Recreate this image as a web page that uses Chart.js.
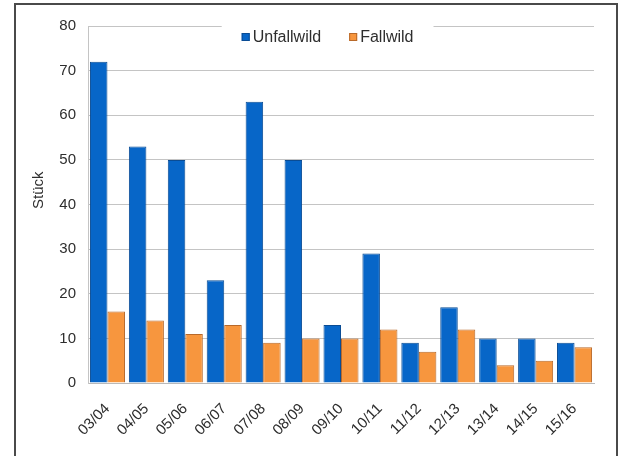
<!DOCTYPE html>
<html>
<head>
<meta charset="utf-8">
<script src="https://cdn.jsdelivr.net/npm/chart.js@4/dist/chart.umd.min.js"></script>
<style>
  html, body { margin: 0; padding: 0; background: #ffffff; }
  #wrap { position: relative; width: 624px; height: 456px; }
</style>
</head>
<body>
<div id="wrap"><canvas id="c" width="624" height="456"></canvas></div>
<script>
// Seasons (Jagdjahre)
const seasons = ['03/04', '04/05', '05/06', '06/07', '07/08', '08/09', '09/10',
                 '10/11', '11/12', '12/13', '13/14', '14/15', '15/16'];
// Counts per season
const unfallwild = [72, 53, 50, 23, 63, 50, 13, 29, 9, 17, 10, 10, 9];
const fallwild   = [16, 14, 11, 13, 9, 10, 10, 12, 7, 12, 4, 5, 8];
// Value axis
const yMin = 0, yMax = 80, yStep = 10;
const yTitle = 'Stück';

const FONT = '"Liberation Sans", Arial, sans-serif';
const BLUE = '#0766c8', BLUE_EDGE = '#0a4c94';
const ORANGE = '#f7963e', ORANGE_EDGE = '#b8692a';

// White page with a thin dark frame around the figure
const framePlugin = {
  id: 'frame',
  beforeDraw(chart) {
    const ctx = chart.ctx;
    ctx.save();
    ctx.fillStyle = '#ffffff';
    ctx.fillRect(0, 0, chart.width, chart.height);
    ctx.strokeStyle = '#4a4a4a';
    ctx.lineWidth = 2;
    ctx.strokeRect(15, 4, 602, chart.height + 20);
    ctx.restore();
  }
};

// Vertical axis title, placed a little above the middle of the value axis
const axisTitle = {
  id: 'axisTitle',
  afterDraw(chart) {
    const ctx = chart.ctx;
    const area = chart.chartArea;
    ctx.save();
    ctx.translate(39, area.top + (area.bottom - area.top) * 0.46);
    ctx.rotate(-Math.PI / 2);
    ctx.font = '15px ' + FONT;
    ctx.fillStyle = '#2e2e2e';
    ctx.textAlign = 'center';
    ctx.textBaseline = 'middle';
    ctx.fillText(yTitle, 0, 0);
    ctx.restore();
  }
};

// Legend sitting on the top gridline, inside the plot area
const inlineLegend = {
  id: 'inlineLegend',
  afterDatasetsDraw(chart) {
    const ctx = chart.ctx;
    const area = chart.chartArea;
    ctx.save();
    ctx.font = '16px ' + FONT;
    ctx.textBaseline = 'middle';
    const items = chart.data.datasets.map(ds => ({
      text: ds.label, color: ds.backgroundColor, edge: ds.borderColor,
      w: ctx.measureText(ds.label).width
    }));
    const box = 8, gap = 3, spacing = 28;
    let total = 0;
    items.forEach((it, i) => { total += box + gap + it.w + (i ? spacing : 0); });
    const cx = chart.width * 0.525;
    const cy = area.top + 11;
    // clear the gridline behind the legend
    ctx.fillStyle = '#ffffff';
    ctx.fillRect(cx - total / 2 - 20, area.top - 2, total + 40, 24);
    let x = cx - total / 2;
    items.forEach((it, i) => {
      if (i) x += spacing;
      ctx.fillStyle = it.color;
      ctx.fillRect(x, cy - box / 2, box, box);
      ctx.strokeStyle = it.edge;
      ctx.lineWidth = 1;
      ctx.strokeRect(x + 0.5, cy - box / 2 + 0.5, box - 1, box - 1);
      x += box + gap;
      ctx.fillStyle = '#2e2e2e';
      ctx.fillText(it.text, x, cy + 1);
      x += it.w;
    });
    ctx.restore();
  }
};

new Chart(document.getElementById('c'), {
  type: 'bar',
  data: {
    labels: seasons,
    datasets: [
      { label: 'Unfallwild', data: unfallwild, backgroundColor: BLUE,
        borderColor: BLUE_EDGE, borderWidth: 1, borderSkipped: 'bottom' },
      { label: 'Fallwild', data: fallwild, backgroundColor: ORANGE,
        borderColor: ORANGE_EDGE, borderWidth: 1, borderSkipped: 'bottom' }
    ]
  },
  options: {
    responsive: false,
    animation: false,
    devicePixelRatio: 1,
    layout: { padding: { left: 16, right: 30, top: 26, bottom: 0 } },
    datasets: { bar: { categoryPercentage: 0.9, barPercentage: 1.0 } },
    plugins: {
      legend: { display: false },
      tooltip: { enabled: false }
    },
    scales: {
      x: {
        grid: { display: false },
        border: { display: true, color: '#b9b9b9', width: 1 },
        ticks: {
          minRotation: 45, maxRotation: 45, padding: 9,
          color: '#2e2e2e', font: { family: FONT, size: 15 }
        },
        afterFit(scale) { scale.height = 73; }
      },
      y: {
        min: yMin, max: yMax,
        grid: { color: '#c4c4c4', lineWidth: 1, drawTicks: false },
        border: { display: true, color: '#c4c4c4', width: 1 },
        ticks: {
          stepSize: yStep, padding: 12,
          color: '#2e2e2e', font: { family: FONT, size: 15 }
        },
        afterFit(scale) { scale.width = 72; }
      }
    }
  },
  plugins: [framePlugin, axisTitle, inlineLegend]
});
</script>
</body>
</html>
